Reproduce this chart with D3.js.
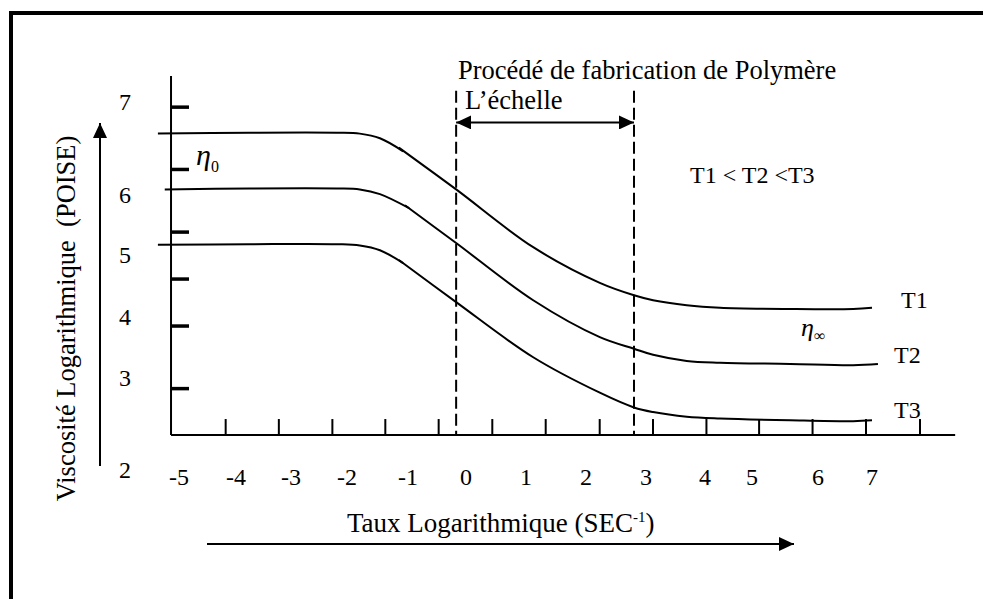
<!DOCTYPE html>
<html><head><meta charset="utf-8">
<script src="https://cdn.jsdelivr.net/npm/d3@7"></script>
<style>
html,body{margin:0;padding:0;background:#fff;}
svg{display:block;}
text{font-family:"Liberation Serif","Times New Roman",Times,serif;fill:#000;}
</style>
</head><body>
<svg id="chart" width="983" height="599"></svg>
<script>
// ---------- data ----------
const rateLabels = [-5,-4,-3,-2,-1,0,1,2,3,4,5,6,7];          // x tick labels (log shear rate)
const viscLabels = [2,3,4,5,6,7];                              // y tick labels (log viscosity)
const rateTicks  = [-4.19,-3.23,-2.27,-1.38,-0.48,0.43,1.32,2.22,3.11,4.02,5.10,5.91,6.88,7.88];
const viscTicks  = [6.95,6.28,5.39,4.62,3.86,2.89];
const xAxisExtent = [-5.14, 8.54];
const yAxisExtent = [2.38, 7.28];

// Newtonian plateau branch and shear-thinning branch of each curve
const t1Newtonian = [[-5.37,6.66],[-3.75,6.67],[-2.18,6.67],[-1.79,6.66],[-1.46,6.61],[-1.08,6.47]];
const t1Thinning  = [[-1.15,6.51],[-0.17,6.06],[1.12,5.13],[2.23,4.55],[2.80,4.35],[3.12,4.27],[3.69,4.19],[4.32,4.15],[5.58,4.13],[6.65,4.13],[7.00,4.15]];
const t2Newtonian = [[-5.25,6.06],[-3.75,6.07],[-2.18,6.07],[-1.79,6.06],[-1.46,6.01],[-0.98,5.78]];
const t2Thinning  = [[-1.05,5.83],[-0.17,5.20],[1.12,4.27],[2.23,3.67],[2.80,3.48],[3.12,3.38],[3.69,3.28],[4.32,3.25],[5.58,3.23],[6.65,3.21],[7.11,3.23]];
const t3Newtonian = [[-5.37,5.17],[-3.75,5.18],[-2.18,5.18],[-1.79,5.16],[-1.46,5.08],[-1.08,4.87]];
const t3Thinning  = [[-1.15,4.92],[-0.17,4.24],[1.12,3.34],[2.23,2.84],[2.80,2.68],[3.12,2.63],[3.69,2.58],[4.32,2.56],[5.58,2.54],[6.65,2.53],[7.00,2.54]];
const seriesNames = ["T1","T2","T3"];
const processWindow = [-0.17, 2.80];   // dashed limits of the processing range
const windowTop = 7.12;
const scaleArrowLevel = 6.78;

// ---------- drawing ----------
const svg = d3.select("#chart");

// hand-drawn, non-uniform scales: the tick labels define the scale
const x = d3.scaleLinear().domain(rateLabels)
  .range([179,236,291,347,408,466,526,586,646,705,752,818,872]);
const y = d3.scaleLinear().domain(viscLabels)
  .range([470,378,317,255,195,102]);

// frame
svg.append("path").attr("d","M11,605V13H990")
  .attr("fill","none").attr("stroke","#000").attr("stroke-width",4);

// arrowhead marker
const defs = svg.append("defs");
defs.append("marker").attr("id","ah").attr("viewBox","0 0 15 14")
  .attr("refX",15).attr("refY",7).attr("markerWidth",15).attr("markerHeight",14)
  .attr("markerUnits","userSpaceOnUse").attr("orient","auto-start-reverse")
  .append("path").attr("d","M0,0L15,7L0,14Z").attr("fill","#000");

// axes
const x0 = x(xAxisExtent[0]), yBase = y(yAxisExtent[0]);
svg.append("line").attr("x1",x0).attr("x2",x0).attr("y1",y(yAxisExtent[1])).attr("y2",yBase)
  .attr("stroke","#000").attr("stroke-width",2);
svg.append("line").attr("x1",x0).attr("x2",x(xAxisExtent[1])).attr("y1",yBase).attr("y2",yBase)
  .attr("stroke","#000").attr("stroke-width",2);

const gy = svg.append("g").attr("transform",`translate(${x0},0)`)
  .call(d3.axisLeft(y).tickValues(viscTicks).tickSize(-18).tickFormat(""));
gy.select(".domain").remove();
gy.selectAll(".tick line").attr("stroke","#000").attr("stroke-width",3.5);

const gx = svg.append("g").attr("transform",`translate(0,${yBase})`)
  .call(d3.axisBottom(x).tickValues(rateTicks).tickSize(-16).tickFormat(""));
gx.select(".domain").remove();
gx.selectAll(".tick line").attr("stroke","#000").attr("stroke-width",2);

// tick labels
svg.append("g").selectAll("text").data(rateLabels).join("text")
  .attr("x",d=>x(d)).attr("y",485).attr("text-anchor","middle")
  .attr("font-size",24).text(d=>String(d));
svg.append("g").selectAll("text").data(viscLabels).join("text")
  .attr("x",125).attr("y",d=>y(d)).attr("dy","0.34em").attr("text-anchor","middle")
  .attr("font-size",24).text(d=>String(d));

// processing window (dashed)
svg.append("g").selectAll("line").data(processWindow).join("line")
  .attr("x1",d=>x(d)).attr("x2",d=>x(d)).attr("y1",y(windowTop)).attr("y2",yBase)
  .attr("stroke","#000").attr("stroke-width",2).attr("stroke-dasharray","12,5");
svg.append("line")
  .attr("x1",x(processWindow[0])).attr("x2",x(processWindow[1]))
  .attr("y1",y(scaleArrowLevel)).attr("y2",y(scaleArrowLevel))
  .attr("stroke","#000").attr("stroke-width",2)
  .attr("marker-start","url(#ah)").attr("marker-end","url(#ah)");

// curves
const line = d3.line().x(d=>x(d[0])).y(d=>y(d[1])).curve(d3.curveCatmullRom.alpha(0.5));
const branches = [t1Newtonian,t1Thinning,t2Newtonian,t2Thinning,t3Newtonian,t3Thinning];
svg.append("g").selectAll("path").data(branches).join("path")
  .attr("d",line).attr("fill","none").attr("stroke","#000").attr("stroke-width",2);

// series labels
const labelPos = [[901,308],[894,363],[894,418]];
svg.append("g").selectAll("text").data(seriesNames).join("text")
  .attr("x",(d,i)=>labelPos[i][0]).attr("y",(d,i)=>labelPos[i][1])
  .attr("font-size",24).text(d=>d);

// annotations
svg.append("text").attr("x",458).attr("y",79).attr("font-size",26.5)
  .text("Procédé de fabrication de Polymère");
svg.append("text").attr("x",465).attr("y",109).attr("font-size",26.5)
  .text("L’échelle");
svg.append("text").attr("x",690).attr("y",183).attr("font-size",24)
  .text("T1 < T2 <T3");

const eta0 = svg.append("text").attr("x",196).attr("y",165);
eta0.append("tspan").attr("font-size",30).attr("font-style","italic").text("η");
eta0.append("tspan").attr("font-size",16).attr("dy",7).text("0");

const etaInf = svg.append("text").attr("x",801).attr("y",336);
etaInf.append("tspan").attr("font-size",26).attr("font-style","italic").text("η");
etaInf.append("tspan").attr("font-size",16).attr("dy",5).text("∞");

// axis titles with arrows
const xt = svg.append("text").attr("x",347).attr("y",532).attr("font-size",27);
xt.append("tspan").text("Taux Logarithmique (SEC");
xt.append("tspan").attr("font-size",15).attr("dy",-10).text("-1");
xt.append("tspan").attr("dy",10).text(")");
svg.append("line").attr("x1",207).attr("x2",794).attr("y1",544).attr("y2",544)
  .attr("stroke","#000").attr("stroke-width",2).attr("marker-end","url(#ah)");

svg.append("text").attr("transform","translate(75,318.5) rotate(-90)")
  .attr("text-anchor","middle").attr("font-size",26.5).style("white-space","pre")
  .text("Viscosité Logarithmique  (POISE)");
svg.append("line").attr("x1",100).attr("x2",100).attr("y1",466).attr("y2",123)
  .attr("stroke","#000").attr("stroke-width",2).attr("marker-end","url(#ah)");
</script>
</body></html>
